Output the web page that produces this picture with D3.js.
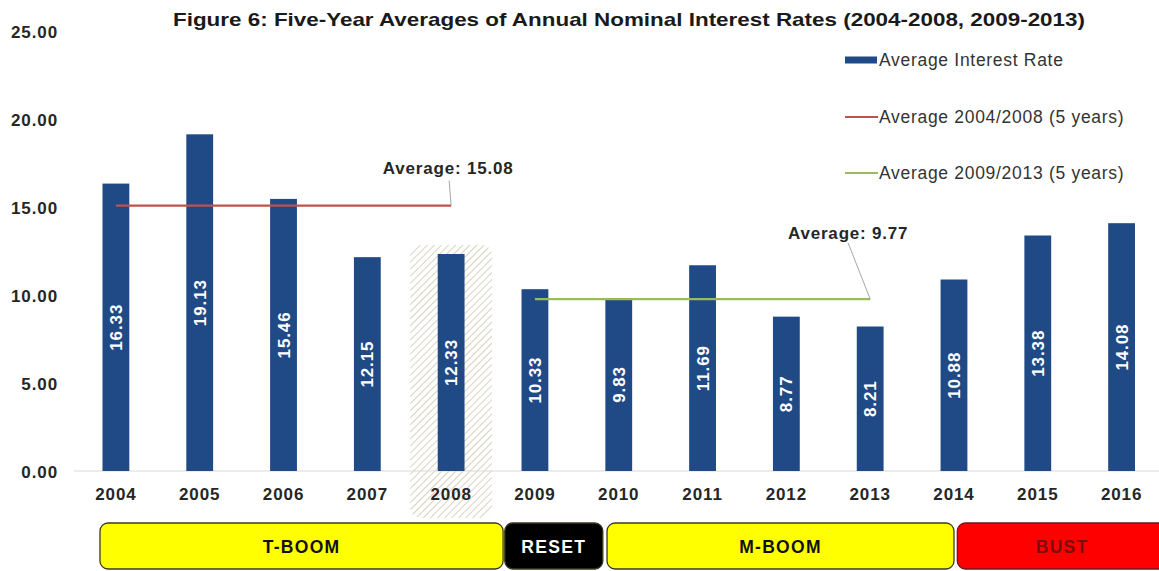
<!DOCTYPE html>
<html>
<head>
<meta charset="utf-8">
<script src="https://cdn.jsdelivr.net/npm/d3@7"></script>
<style>
  html, body { margin: 0; padding: 0; background: #ffffff; }
  svg { display: block; font-family: "Liberation Sans", Arial, sans-serif; }
</style>
</head>
<body>
<svg id="chart" width="1159" height="571"></svg>
<script>
// Annual nominal interest rates, 2004-2016
const years = [2004, 2005, 2006, 2007, 2008, 2009, 2010, 2011, 2012, 2013, 2014, 2015, 2016];
const rates = [16.33, 19.13, 15.46, 12.15, 12.33, 10.33, 9.83, 11.69, 8.77, 8.21, 10.88, 13.38, 14.08];

// Five-year averages
const averagePeriods = ["2004/2008", "2009/2013"];
const averageValues = [15.08, 9.77];
const averageStart = [2004, 2009];
const averageEnd = [2008, 2013];

const yTicks = [0, 5, 10, 15, 20, 25];
const highlightYear = 2008;

// Economic phases shown under the axis (boundaries in fractional years)
const phaseLabels = ["T-BOOM", "RESET", "M-BOOM", "BUST"];
const phaseFrom = [2003.81, 2008.64, 2009.86, 2014.04];
const phaseTo = [2008.62, 2009.81, 2014.00, 2016.55];

const title = "Figure 6: Five-Year Averages of Annual Nominal Interest Rates (2004-2008, 2009-2013)";

const barColor = "#1f4a86";
const avgColors = ["#c0504d", "#9bbb59"];
const phaseFill = ["#ffff00", "#000000", "#ffff00", "#ff0000"];
const phaseText = ["#111111", "#ffffff", "#111111", "#7a0d0d"];

const svg = d3.select("#chart");

const x = d3.scaleBand()
  .domain(years)
  .range([74, 1163.5])
  .paddingInner(0.68)
  .paddingOuter(0.34);
const cx = yr => x(yr) + x.bandwidth() / 2;
const step = x.step();

// continuous year position for items that sit between categories
const xYear = d3.scaleLinear()
  .domain([years[0], years[years.length - 1]])
  .range([cx(years[0]), cx(years[years.length - 1])]);

const y = d3.scaleLinear().domain([0, 25]).range([471, 31]);

// hatch pattern for the highlighted year
const defs = svg.append("defs");
const pat = defs.append("pattern")
  .attr("id", "hatch")
  .attr("patternUnits", "userSpaceOnUse")
  .attr("width", 5).attr("height", 5)
  .attr("patternTransform", "rotate(45)");
pat.append("line")
  .attr("x1", 0).attr("y1", 0).attr("x2", 0).attr("y2", 5)
  .attr("stroke", "#d3cdb8").attr("stroke-width", 1.8);

// title
svg.append("text")
  .attr("x", 629).attr("y", 26)
  .attr("text-anchor", "middle")
  .attr("font-size", 19).attr("font-weight", "bold")
  .attr("textLength", 912).attr("lengthAdjust", "spacingAndGlyphs")
  .attr("fill", "#1a1a1a")
  .text(title);

// highlight behind 2008
const hv = rates[years.indexOf(highlightYear)];
svg.append("rect")
  .attr("x", x(highlightYear) + x.bandwidth() / 2 - step / 2 + 1)
  .attr("width", step - 2)
  .attr("y", y(hv) - 9)
  .attr("height", y(0) + 47 - (y(hv) - 9))
  .attr("rx", 10).attr("ry", 10)
  .attr("fill", "url(#hatch)");

// baseline
svg.append("line")
  .attr("x1", 74).attr("x2", 1163)
  .attr("y1", y(0)).attr("y2", y(0))
  .attr("stroke", "#d9d9d9").attr("stroke-width", 1);

// y axis labels
const yAxis = d3.axisLeft(y).tickValues(yTicks).tickFormat(d3.format(".2f")).tickSize(0).tickPadding(0);
const yg = svg.append("g").attr("transform", "translate(58,0)").call(yAxis);
yg.select(".domain").remove();
yg.selectAll("text")
  .attr("font-size", 17).attr("font-weight", "bold")
  .attr("letter-spacing", 0.9)
  .attr("font-family", "Liberation Sans, Arial, sans-serif")
  .attr("fill", "#262626").attr("dy", "0.36em");

// x axis labels
const xAxis = d3.axisBottom(x).tickSize(0).tickPadding(0);
const xg = svg.append("g").attr("transform", `translate(0,${y(0)})`).call(xAxis);
xg.select(".domain").remove();
xg.selectAll("text")
  .attr("font-size", 17).attr("font-weight", "bold")
  .attr("letter-spacing", 0.9)
  .attr("font-family", "Liberation Sans, Arial, sans-serif")
  .attr("fill", "#262626").attr("y", 29).attr("dy", 0);

// bars
svg.append("g").selectAll("rect")
  .data(years)
  .join("rect")
  .attr("x", d => x(d))
  .attr("width", x.bandwidth())
  .attr("y", (d, i) => y(rates[i]))
  .attr("height", (d, i) => y(0) - y(rates[i]))
  .attr("fill", barColor);

// value labels inside bars
svg.append("g").selectAll("text")
  .data(years)
  .join("text")
  .attr("transform", (d, i) => `translate(${cx(d)},${(y(rates[i]) + y(0)) / 2}) rotate(-90)`)
  .attr("text-anchor", "middle")
  .attr("dy", "0.36em")
  .attr("font-size", 17).attr("font-weight", "bold")
  .attr("letter-spacing", 0.9)
  .attr("fill", "#ffffff")
  .text((d, i) => rates[i].toFixed(2));

// average lines with callouts
const callout = [{ dx: -3, dy: -38, lx: -2, ly: -25 }, { dx: -22, dy: -66, lx: -22, ly: -56 }];
averageValues.forEach((v, i) => {
  const x1 = cx(averageStart[i]), x2 = cx(averageEnd[i]), yy = y(v);
  svg.append("line")
    .attr("x1", x1).attr("x2", x2).attr("y1", yy).attr("y2", yy)
    .attr("stroke", avgColors[i]).attr("stroke-width", 2.2);
  const c = callout[i];
  svg.append("line")
    .attr("x1", x2 + c.lx).attr("y1", yy + c.ly)
    .attr("x2", x2).attr("y2", yy)
    .attr("stroke", "#a6a6a6").attr("stroke-width", 1);
  svg.append("text")
    .attr("x", x2 + c.dx).attr("y", yy + c.dy)
    .attr("text-anchor", "middle").attr("dy", "0.36em")
    .attr("font-size", 17).attr("font-weight", "bold")
    .attr("letter-spacing", 0.8)
    .attr("fill", "#262626")
    .text("Average: " + v.toFixed(2));
});

// legend
const legendItems = [
  { label: "Average Interest Rate", type: "bar", color: barColor },
  { label: `Average ${averagePeriods[0]} (5 years)`, type: "line", color: avgColors[0] },
  { label: `Average ${averagePeriods[1]} (5 years)`, type: "line", color: avgColors[1] }
];
const legendY = [60, 117, 173];
const lg = svg.append("g");
legendItems.forEach((it, i) => {
  const g = lg.append("g").attr("transform", `translate(845,${legendY[i]})`);
  if (it.type === "bar") {
    g.append("rect").attr("x", 0).attr("y", -3.5).attr("width", 32).attr("height", 7).attr("fill", it.color);
  } else {
    g.append("line").attr("x1", 0).attr("x2", 33).attr("y1", 0).attr("y2", 0)
      .attr("stroke", it.color).attr("stroke-width", 2);
  }
  g.append("text").attr("x", 34).attr("dy", "0.36em")
    .attr("font-size", 17.5).attr("letter-spacing", 0.7)
    .attr("fill", "#333333")
    .text(it.label);
});

// phase boxes under the axis
const pg = svg.append("g");
phaseLabels.forEach((lab, i) => {
  const x0 = xYear(phaseFrom[i]), x1 = xYear(phaseTo[i]);
  pg.append("rect")
    .attr("x", x0).attr("y", 523).attr("width", x1 - x0).attr("height", 46)
    .attr("rx", 8).attr("ry", 8)
    .attr("fill", phaseFill[i])
    .attr("stroke", i === 3 ? "#6b1a1a" : "#3a3a20").attr("stroke-width", 1.3);
  pg.append("text")
    .attr("x", (x0 + Math.min(x1, 1167)) / 2).attr("y", 547)
    .attr("text-anchor", "middle").attr("dy", "0.36em")
    .attr("font-size", 17.5).attr("font-weight", "bold")
    .attr("letter-spacing", 1.3)
    .attr("fill", phaseText[i])
    .text(lab);
});
</script>
</body>
</html>
